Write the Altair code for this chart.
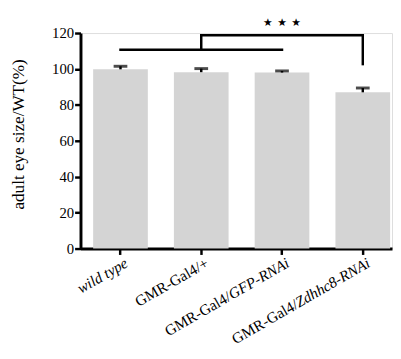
import altair as alt
import pandas as pd

categories = ["wild type", "GMR-Gal4/+", "GMR-Gal4/GFP-RNAi", "GMR-Gal4/Zdhhc8-RNAi"]
means = [99.8, 98.2, 98.0, 87.0]
errors = [1.7, 2.0, 0.9, 2.4]
y_ticks = [0, 20, 40, 60, 80, 100, 120]

# label pieces: roman part and italic part
label_roman = ["", "GMR-Gal4/+", "GMR-Gal4/", "GMR-Gal4/"]
label_italic = ["wild type", "", "GFP-RNAi", "Zdhhc8-RNAi"]

# significance bracket
group_left = categories[0]
group_right = categories[2]
group_mid = categories[1]
target = categories[3]
bracket_low = 110.7
bracket_top = 118.8
bracket_target_bottom = 102.7
stars_y = 125.5
stars_text = "\u2605 \u200a\u2605 \u200a\u2605"

df = pd.DataFrame({"cat": categories, "mean": means, "err": errors})
df["upper"] = df["mean"] + df["err"]
lab = pd.DataFrame({"cat": categories, "roman": label_roman, "italic": label_italic})

SERIF = "Liberation Serif"

xs = alt.Scale(domain=categories, paddingInner=0.323, paddingOuter=0.09, align=0.87)
ys = alt.Scale(domain=[0, 120])

x_axis = alt.Axis(title=None, labels=False, ticks=True, tickSize=6, tickWidth=2.5,
                  tickColor="black", domainColor="black", domainWidth=3)
y_axis = alt.Axis(title="adult eye size/WT(%)", values=y_ticks, labelOverlap=False,
                  grid=False, tickSize=6, tickWidth=2.5, tickColor="black",
                  domainColor="black", domainWidth=3,
                  labelFont=SERIF, labelFontSize=15, labelColor="black", labelPadding=1,
                  titleFont=SERIF, titleFontSize=17.5, titleFontWeight="normal",
                  titleColor="black", titleX=-63, titleY=103, titleAngle=270,
                  titleAlign="center", titleBaseline="middle")


def X(field="cat:N"):
    return alt.X(field, scale=xs, sort=categories, axis=x_axis)


def Y(field):
    return alt.Y(field, scale=ys, axis=y_axis)


base = alt.Chart(df)
bars = base.mark_bar(color="#D4D4D4").encode(x=X(), y=Y("mean:Q"))
err_rule = base.mark_rule(color="black", strokeWidth=2.5).encode(
    x=X(), y=Y("mean:Q"), y2="upper:Q")
caps = base.mark_tick(color="black", thickness=3, size=14, orient="horizontal").encode(
    x=X(), y=Y("upper:Q"))

br = pd.DataFrame({
    "x1": [group_left, group_mid, group_mid, target],
    "x2": [group_right, group_mid, target, target],
    "y1": [bracket_low, bracket_low, bracket_top, bracket_top],
    "y2": [bracket_low, bracket_top, bracket_top, bracket_target_bottom],
})
brackets = alt.Chart(br).mark_rule(color="black", strokeWidth=2.5, strokeCap="square").encode(
    x=X("x1:N"), x2="x2:N", y=Y("y1:Q"), y2="y2:Q")

stars = alt.Chart(pd.DataFrame({"cat": [group_right], "y": [stars_y], "t": [stars_text]})).mark_text(
    fontSize=11, color="black", font="DejaVu Sans").encode(
    x=X(), y=Y("y:Q"), text="t:N")

LABEL_Y = 229
FS = 15.5
w_gfp = 69
w_zd = 85

def label_layer(filt, field, italic=False, dx=3):
    kw = dict(font=SERIF, fontSize=FS, color="black", align="right", baseline="top",
              angle=330, dx=dx)
    if italic:
        kw["fontStyle"] = "italic"
    return alt.Chart(lab).transform_filter(filt).mark_text(**kw).encode(
        x=X(), y=alt.value(LABEL_Y), text=field)

lab_it = label_layer("datum.italic != ''", "italic:N", italic=True)
lab_plain = label_layer(alt.datum.cat == categories[1], "roman:N")
lab_pre1 = label_layer(alt.datum.cat == categories[2], "roman:N", dx=3 - w_gfp)
lab_pre2 = label_layer(alt.datum.cat == categories[3], "roman:N", dx=3 - w_zd)

chart = alt.layer(bars, err_rule, caps, brackets, stars, lab_it, lab_plain, lab_pre1, lab_pre2).properties(
    width=318, height=220,
    padding={"left": 74, "top": 22, "right": 1, "bottom": 101},
    autosize=alt.AutoSizeParams(type="none"),
).configure_view(stroke=None).configure(background="white")

chart.save("out.html", embed_options={"renderer": "svg", "actions": False})
